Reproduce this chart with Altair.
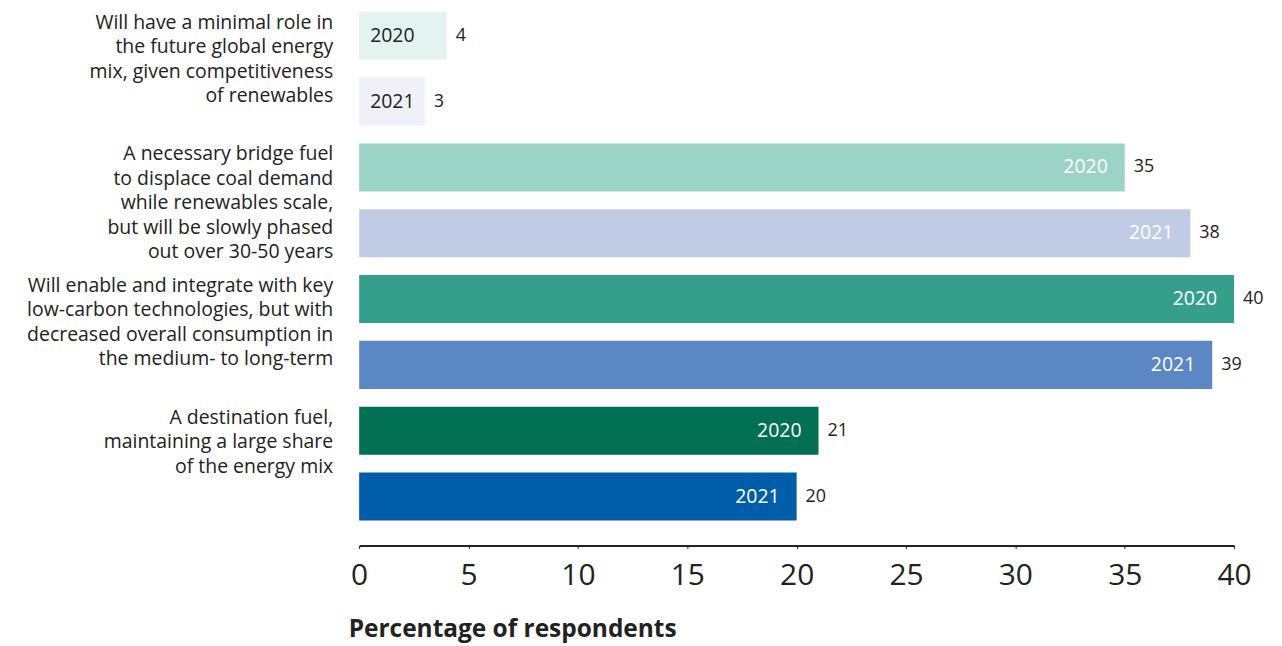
import altair as alt
import pandas as pd

group_labels = [
    ["Will have a minimal role in", "the future global energy", "mix, given competitiveness", "of renewables"],
    ["A necessary bridge fuel", "to displace coal demand", "while renewables scale,", "but will be slowly phased", "out over 30-50 years"],
    ["Will enable and integrate with key", "low-carbon technologies, but with", "decreased overall consumption in", "the medium- to long-term"],
    ["A destination fuel,", "maintaining a large share", "of the energy mix"],
]
years = ["2020", "2021", "2020", "2021", "2020", "2021", "2020", "2021"]
values = [4, 3, 35, 38, 40, 39, 21, 20]
colors = ["#e3f4f0", "#f0f1f8", "#9bd3c6", "#c0cce6", "#34a08c", "#5b88c4", "#006f52", "#005daa"]
ticks = [0, 5, 10, 15, 20, 25, 30, 35, 40]

FONT = "Open Sans"

bars = pd.DataFrame({
    "row": list(range(len(values))),
    "year": years,
    "value": values,
    "col": colors,
})
bars["light"] = bars["row"] < 2

glabels = pd.DataFrame({
    "row": [0, 2, 4, 6],
    "label": group_labels,
})

y_enc = alt.Y("row:O", axis=None, scale=alt.Scale(paddingInner=0.27, paddingOuter=0))

base = alt.Chart(bars)

bar_layer = base.mark_bar().encode(
    x=alt.X(
        "value:Q",
        scale=alt.Scale(domain=[0, 40], nice=False),
        axis=alt.Axis(
            values=ticks,
            grid=False,
            offset=25,
            domainColor="#222222",
            domainWidth=2,
            tickColor="#222222",
            tickSize=3,
            labelFont=FONT,
            labelFontSize=30,
            labelColor="#222222",
            labelPadding=12,
            labelFlush=False,
            title="Percentage of respondents",
            titleFont=FONT,
            titleFontSize=24.5,
            titleFontWeight="bold",
            titleColor="#222222",
            titleAnchor="start",
            titleAlign="left",
            titleX=-11,
            titleY=91,
            titleBaseline="alphabetic",
        ),
    ),
    y=y_enc,
    color=alt.Color("col:N", scale=None),
)

value_text = base.mark_text(align="left", baseline="middle", dx=9, font=FONT, fontSize=18, color="#222222").encode(
    x="value:Q", y=y_enc, text="value:Q"
)

year_light = base.transform_filter("datum.light").mark_text(
    align="left", baseline="middle", dx=11, font=FONT, fontSize=19.5, color="#222222"
).encode(x=alt.value(0), y=y_enc, text="year:N")

year_dark = base.transform_filter("!datum.light").mark_text(
    align="right", baseline="middle", dx=-17, font=FONT, fontSize=19.5, color="#ffffff"
).encode(x="value:Q", y=y_enc, text="year:N")

group_text = alt.Chart(glabels).mark_text(
    align="right", baseline="top", dy=2, font=FONT, fontSize=19.5, lineHeight=24.5, color="#222222"
).encode(
    x=alt.value(-26),
    y=alt.Y("row:O", axis=None, bandPosition=0, scale=alt.Scale(paddingInner=0.27, paddingOuter=0)),
    text="label",
)

chart = alt.layer(bar_layer, value_text, year_light, year_dark, group_text).properties(
    width=877,
    height=510,
    autosize=alt.AutoSizeParams(type="none"),
    padding={"left": 352, "top": 3, "right": 40, "bottom": 124},
).configure(background="white").configure_view(stroke=None)

chart.save("out.html", embed_options={"renderer": "svg", "actions": False})
